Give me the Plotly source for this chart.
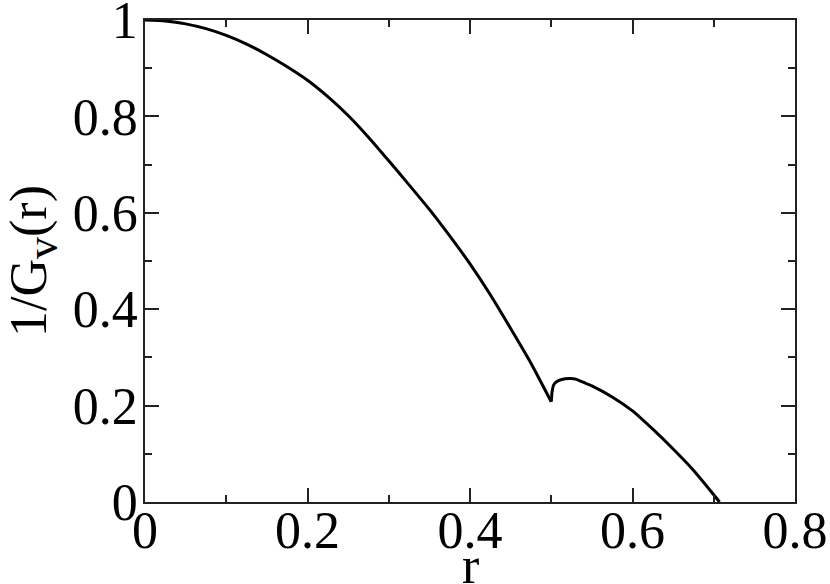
import plotly.graph_objects as go

FONT = "Liberation Serif"

# values: main branch up to the cusp at r = 0.5
r_left = [0.0, 0.025, 0.05, 0.075, 0.1, 0.125, 0.15, 0.175, 0.2, 0.225,
          0.25, 0.275, 0.3, 0.325, 0.35, 0.375, 0.4, 0.425, 0.45, 0.475, 0.5]
g_left = [1.0, 0.998, 0.992, 0.982, 0.968, 0.95, 0.928, 0.903, 0.875, 0.841,
          0.802, 0.757, 0.708, 0.658, 0.607, 0.552, 0.494, 0.43, 0.36, 0.288, 0.208]

# second branch after the cusp
r_right = [0.5, 0.501, 0.503, 0.507, 0.513, 0.522, 0.53, 0.54, 0.55, 0.575,
           0.6, 0.625, 0.65, 0.675, 0.7, 0.7071]
g_right = [0.208, 0.228, 0.243, 0.25, 0.254, 0.256, 0.255, 0.248, 0.241, 0.218,
           0.189, 0.151, 0.11, 0.066, 0.015, 0.0]

x_ticks = [0, 0.2, 0.4, 0.6, 0.8]
x_labels = ["0", "0.2", "0.4", "0.6", "0.8"]
y_ticks = [0, 0.2, 0.4, 0.6, 0.8, 1]
y_labels = ["0", "0.2", "0.4", "0.6", "0.8", "1"]

fig = go.Figure()
for xs, ys in [(r_left, g_left), (r_right, g_right)]:
    fig.add_trace(go.Scatter(x=xs, y=ys, mode="lines",
                             line=dict(color="black", width=3, shape="spline", smoothing=0.6)))

axis_style = dict(
    showgrid=False, zeroline=False, automargin=False,
    showline=True, linecolor="#222", linewidth=1.5, mirror="ticks",
    ticks="inside", ticklen=14, tickwidth=1.5, tickcolor="#222",
    tickfont=dict(family=FONT, size=52, color="black"),
    ticklabeloverflow="allow",
    minor=dict(ticks="inside", ticklen=7, tickwidth=1.5, tickcolor="#222", dtick=0.1),
)

fig.update_xaxes(range=[0, 0.8], tickvals=x_ticks, ticktext=x_labels, ticklabelstandoff=-18,
                 **axis_style)
fig.update_yaxes(range=[0, 1], tickvals=y_ticks, ticktext=y_labels, ticklabelstandoff=-5,
                 title=dict(text="1/G<sub><span style='font-size:44px'>v</span></sub>(r)",
                            font=dict(family=FONT, size=52, color="black"), standoff=40),
                 **axis_style)

# x title as an annotation: an axis title would be held inside the bottom margin
fig.add_annotation(text="r", xref="paper", yref="paper", x=0.5, y=0,
                   xanchor="center", yanchor="top", yshift=-33, showarrow=False,
                   font=dict(family=FONT, size=52, color="black"))

fig.update_layout(
    width=830, height=584,
    margin=dict(l=145, r=35, t=20, b=82),
    paper_bgcolor="white", plot_bgcolor="white",
    showlegend=False,
)

# drop the default page margin so the figure sits at the window's corner
fig.write_html("out.html", config={"displayModeBar": False},
               post_script="document.body.style.margin='0';")
